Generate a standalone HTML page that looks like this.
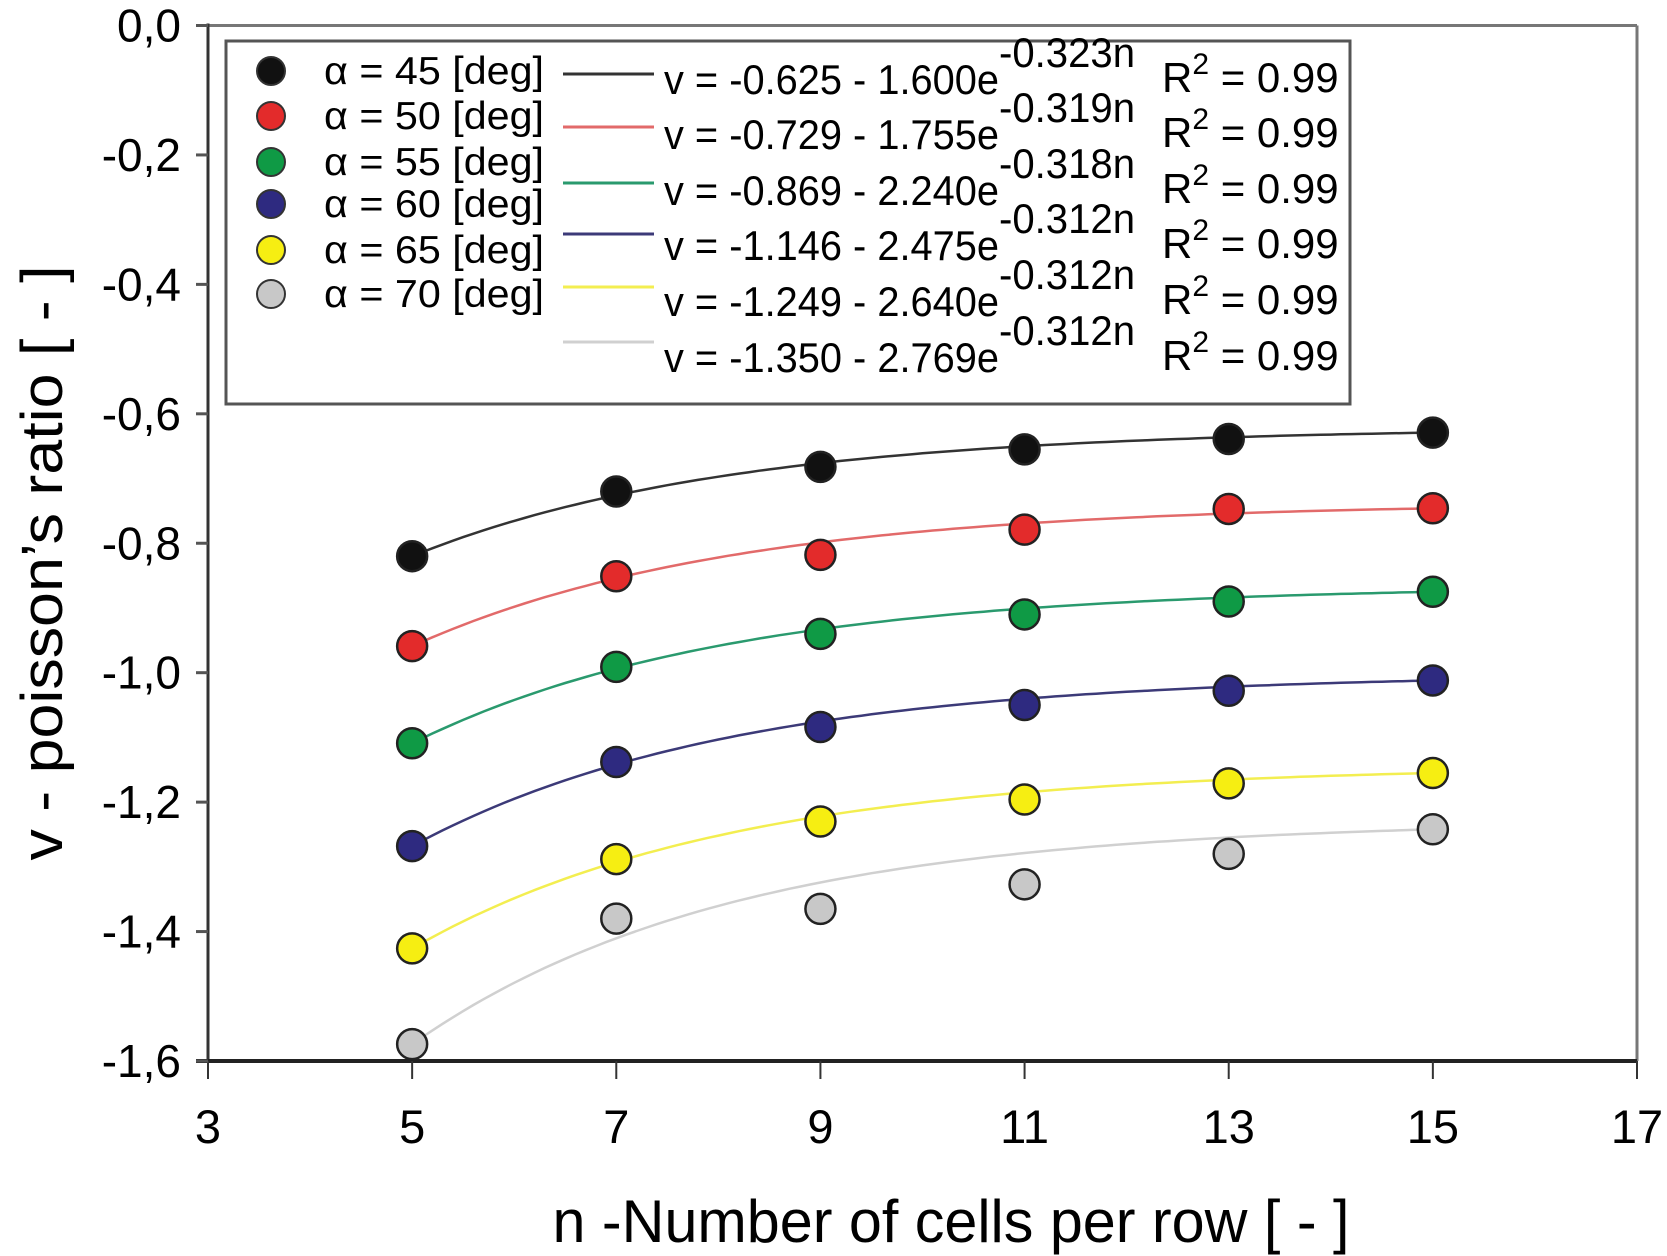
<!DOCTYPE html>
<html><head><meta charset="utf-8"><style>
html,body{margin:0;padding:0;background:#fff}
svg{display:block}
text{font-family:"Liberation Sans Narrow","Liberation Sans",sans-serif;fill:#000}
</style></head><body>
<svg id="chart" width="1667" height="1256" viewBox="0 0 1667 1256" xmlns="http://www.w3.org/2000/svg">
<rect x="0" y="0" width="1667" height="1256" fill="#fff"/>
<g id="plot"></g>
</svg>
<script>
const nValues=[5,7,9,11,13,15];
const angles=[45,50,55,60,65,70];
const s45=[-0.820,-0.720,-0.682,-0.655,-0.639,-0.629];
const s50=[-0.959,-0.851,-0.818,-0.779,-0.747,-0.746];
const s55=[-1.109,-0.991,-0.940,-0.910,-0.890,-0.875];
const s60=[-1.268,-1.138,-1.084,-1.050,-1.028,-1.012];
const s65=[-1.426,-1.288,-1.230,-1.196,-1.171,-1.155];
const s70=[-1.574,-1.380,-1.365,-1.327,-1.280,-1.242];
const xTicks=[3,5,7,9,11,13,15,17];
const yTicks=[0,-0.2,-0.4,-0.6,-0.8,-1.0,-1.2,-1.4,-1.6];
const yTickLabels=["0,0","-0,2","-0,4","-0,6","-0,8","-1,0","-1,2","-1,4","-1,6"];
const eqConst=["-0.625","-0.729","-0.869","-1.146","-1.249","-1.350"];
const eqAmp=["1.600","1.755","2.240","2.475","2.640","2.769"];
const eqRate=["-0.323n","-0.319n","-0.318n","-0.312n","-0.312n","-0.312n"];
const r2=["0.99","0.99","0.99","0.99","0.99","0.99"];

const series=[s45,s50,s55,s60,s65,s70];
const fills=["#111","#e32b2b","#0f9a45","#2e2a80","#f6ee12","#c8c8c8"];
const lineCols=["#333","#e26a6a","#2a9a6e","#3c3a78","#f3ee50","#d0d0d0"];
const NS="http://www.w3.org/2000/svg";
const g=document.getElementById('plot');
const X0=208,X1=1637,Y0=25.5,Y1=1061;
const xS=v=>X0+(v-3)/(17-3)*(X1-X0);
const yS=v=>Y0+(0-v)/1.6*(Y1-Y0);
function el(t,a,p){const e=document.createElementNS(NS,t);for(const k in a)e.setAttribute(k,a[k]);(p||g).appendChild(e);return e;}

let e;
e=el('line',{x1:X0,y1:Y0,x2:X1,y2:Y0,stroke:'#777','stroke-width':3});

e=el('line',{x1:X1,y1:Y0,x2:X1,y2:Y1,stroke:'#777','stroke-width':3});

e=el('line',{x1:X0,y1:Y0-2,x2:X0,y2:Y1+2,stroke:'#333','stroke-width':3});

e=el('line',{x1:X0-12,y1:Y1,x2:X1,y2:Y1,stroke:'#222','stroke-width':4});


xTicks.forEach(v=>{
  const t=el('line',{x1:xS(v),y1:Y1,x2:xS(v),y2:Y1+18,stroke:'#333','stroke-width':2});
  
  const l=el('text',{x:xS(v),y:1143,'font-size':47,'text-anchor':'middle'});
  l.textContent=String(v);
  
});
yTicks.forEach((v,i)=>{
  const t=el('line',{x1:X0-12,y1:yS(v),x2:X0,y2:yS(v),stroke:'#555','stroke-width':3});
  
  const l=el('text',{x:181,y:yS(v)+16,'font-size':46,'text-anchor':'end'});
  l.textContent=yTickLabels[i];
  
});

let xt=el('text',{x:951,y:1242,'font-size':60,'text-anchor':'middle',textLength:797,lengthAdjust:'spacingAndGlyphs'});
xt.textContent='n -Number of cells per row [ - ]';

let yt=el('text',{x:0,y:0,'font-size':58,'text-anchor':'middle',textLength:595,lengthAdjust:'spacingAndGlyphs',transform:'translate(62,563) rotate(-90)'});
yt.textContent='v - poisson\u2019s ratio [ - ]';


const rate=0.32;
series.forEach((s,i)=>{
  const first=s[0],last=s[s.length-1];
  const k=Math.exp(-rate*(nValues[nValues.length-1]-nValues[0]));
  const b=(first-last)/(1-k), a=first-b;
  let d='';
  for(let n=nValues[0];n<=nValues[nValues.length-1]+0.001;n+=0.1){
    const v=a+b*Math.exp(-rate*(n-nValues[0]));
    d+=(d?'L':'M')+xS(n).toFixed(1)+','+yS(v).toFixed(1);
  }
  const p=el('path',{d:d,fill:'none',stroke:lineCols[i],'stroke-width':2.5});
  
});
series.forEach((s,i)=>{
  s.forEach((v,j)=>{
    const c=el('circle',{cx:xS(nValues[j]),cy:yS(v),r:15,fill:fills[i],stroke:'#222','stroke-width':2.5});
    
    
  });
});

const lg=el('g',{});

e=el('rect',{x:226,y:41,width:1124,height:363,fill:'#fff',stroke:'#555','stroke-width':3},lg);

const mY=[71,116,162,204,250,294];
const lY=[74,127,183,234,287,342];
const tY=[94,149,205,260,316,372];
angles.forEach((a,i)=>{
  const m=el('circle',{cx:271,cy:mY[i],r:14,fill:fills[i],stroke:'#333','stroke-width':2},lg);
  
  const t=el('text',{x:324,y:mY[i]+13,'font-size':39,textLength:220,lengthAdjust:'spacingAndGlyphs'},lg);
  t.textContent='\u03b1 = '+a+' [deg]';
  
  const ln=el('line',{x1:563,y1:lY[i],x2:654,y2:lY[i],stroke:lineCols[i],'stroke-width':3},lg);
  
  const eq=el('text',{x:664,y:tY[i],'font-size':42,textLength:335,lengthAdjust:'spacingAndGlyphs'},lg);
  eq.textContent='v = '+eqConst[i]+' - '+eqAmp[i]+'e';
  
  const ex=el('text',{x:999,y:tY[i]-27,'font-size':42,textLength:136,lengthAdjust:'spacingAndGlyphs'},lg);
  ex.textContent=eqRate[i];
  
  const r=el('text',{x:1162,y:tY[i]-2,'font-size':42},lg);
  r.innerHTML='R<tspan dy="-18" font-size="30">2</tspan><tspan dy="18"> = '+r2[i]+'</tspan>';
  
});
</script>
</body></html>
